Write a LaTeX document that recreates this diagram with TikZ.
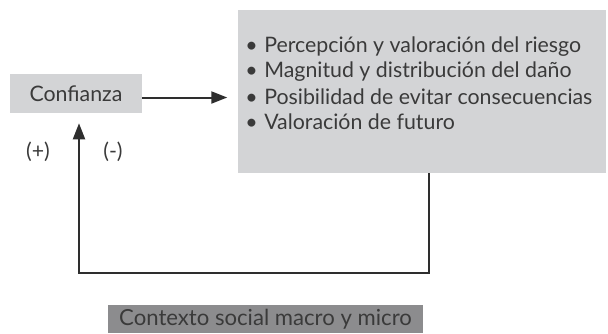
\documentclass[tikz,border=0pt]{standalone}
\usepackage{fontspec}
\setmainfont{Lato}
\usepackage{xcolor}
\usetikzlibrary{
    arrows.meta,
    positioning
}
\definecolor{boxgray}{HTML}{D3D4D6}
\definecolor{darkbox}{HTML}{8C8C8E}
\definecolor{ink}{HTML}{3A3A3A}

\tikzset{
    lightbox/.style={fill=boxgray, inner sep=0pt, text=ink},
    flow/.style={line width=1.5pt, draw=ink!80!black, -{Triangle[length=12pt,width=9pt]}}
}

\begin{document}
\begin{tikzpicture}[x=0.75pt, y=-0.75pt, font=\fontsize{16}{18.75}\selectfont]
    \useasboundingbox (0,0) rectangle (608,333);

    % boxes
    \node[lightbox, minimum width=99pt, minimum height=29.25pt] (conf) at (76,93.5) {Confianza};
    \node[lightbox, minimum width=276pt, minimum height=122.25pt] (factors) at (422,91.5) {};
    \foreach \txt [count=\i from 0] in {Percepción y valoración del riesgo,
                                        Magnitud y distribución del daño,
                                        Posibilidad de evitar consecuencias,
                                        Valoración de futuro}
        \node[anchor=west, inner sep=0pt, text=ink] (item\i) at (245,{47+25*\i})
            {\textbullet\hspace{5pt}\txt};
    \node[fill=darkbox, inner sep=0pt, text=ink, minimum width=236.25pt, minimum height=21pt,
          font=\fontsize{16.6}{19}\selectfont] (context) at (265.5,319) {Contexto social macro y micro};

    % signs
    \node[text=ink] (plus) at (38,152) {(+)};
    \node[text=ink] (minus) at (113,152) {(-)};

    % connectors
    \coordinate (corner) at (79,273);
    \draw[flow] ([yshift=-3pt]conf.east) -- ++(85,0);
    \draw[flow] ([xshift=5.25pt]factors.south) |- (corner) -- ([xshift=2.25pt,yshift=-7.5pt]conf.south);
\end{tikzpicture}
\end{document}
